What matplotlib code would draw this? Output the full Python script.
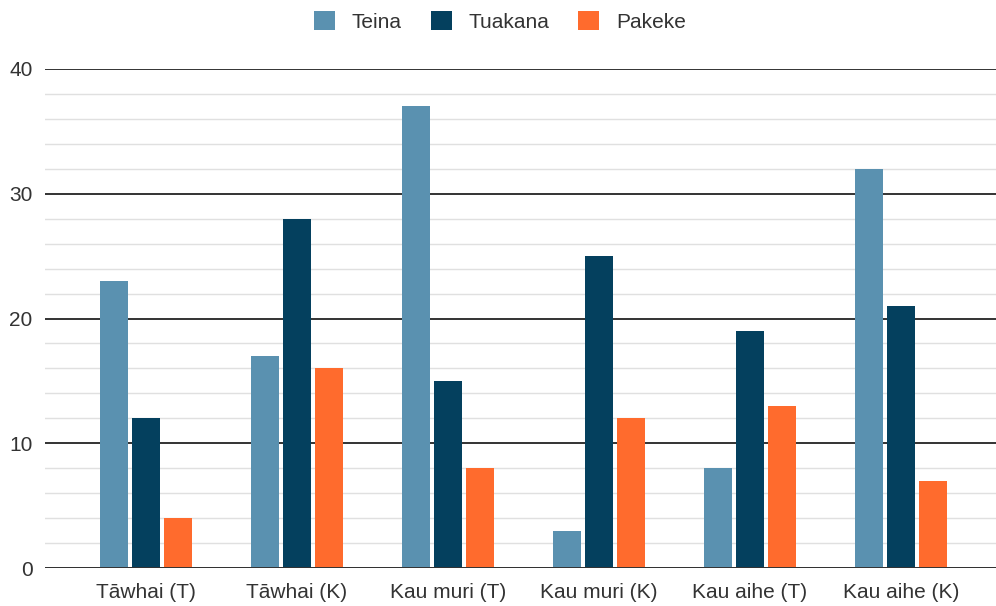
import numpy as np
import matplotlib.pyplot as plt
from matplotlib.ticker import MultipleLocator

# datos del gráfico
categories = ['Tāwhai (T)', 'Tāwhai (K)', 'Kau muri (T)', 'Kau muri (K)', 'Kau aihe (T)', 'Kau aihe (K)']
teina = [23, 17, 37, 3, 8, 32]
tuakana = [12, 28, 15, 25, 19, 21]
pakeke = [4, 16, 8, 12, 13, 7]

series = [('Teina', teina, '#5a91b0'),
          ('Tuakana', tuakana, '#04405e'),
          ('Pakeke', pakeke, '#ff6b2d')]

plt.rcParams['font.family'] = ['Liberation Sans', 'DejaVu Sans']

fig = plt.figure(figsize=(9.96, 6.06), dpi=100)
ax = fig.add_axes([45/996, 1 - 568/606, 1 - 45/996, (568 - 69)/606])

x = np.arange(len(categories))
width = 0.185
step = 0.212
for i, (name, vals, color) in enumerate(series):
    ax.bar(x + (i - 1)*step, vals, width, color=color, label=name, zorder=3)

ax.set_ylim(0, 40)
ax.set_xlim(-0.669, 5.63)
ax.yaxis.set_major_locator(MultipleLocator(10))
ax.yaxis.set_minor_locator(MultipleLocator(2))
ax.grid(axis='y', which='major', color='#333333', linewidth=1.4, zorder=1)
ax.grid(axis='y', which='minor', color='#e0e0e0', linewidth=1.0, zorder=0)
ax.set_xticks(x)
ax.set_xticklabels(categories)
ax.tick_params(axis='both', which='both', length=0, labelsize=15, colors='#333333')
ax.tick_params(axis='x', pad=11)
ax.tick_params(axis='y', pad=9)
for s in ax.spines.values():
    s.set_visible(False)
ax.axhline(0, color='#333333', linewidth=1.4, zorder=4)

fig.legend(loc='upper center', bbox_to_anchor=(0.502, 1.012), ncol=3, frameon=False,
           fontsize=15, handlelength=1.0, handleheight=1.0, columnspacing=1.4,
           handletextpad=0.8, labelcolor='#333333')

fig.savefig('out.png', dpi=100)
